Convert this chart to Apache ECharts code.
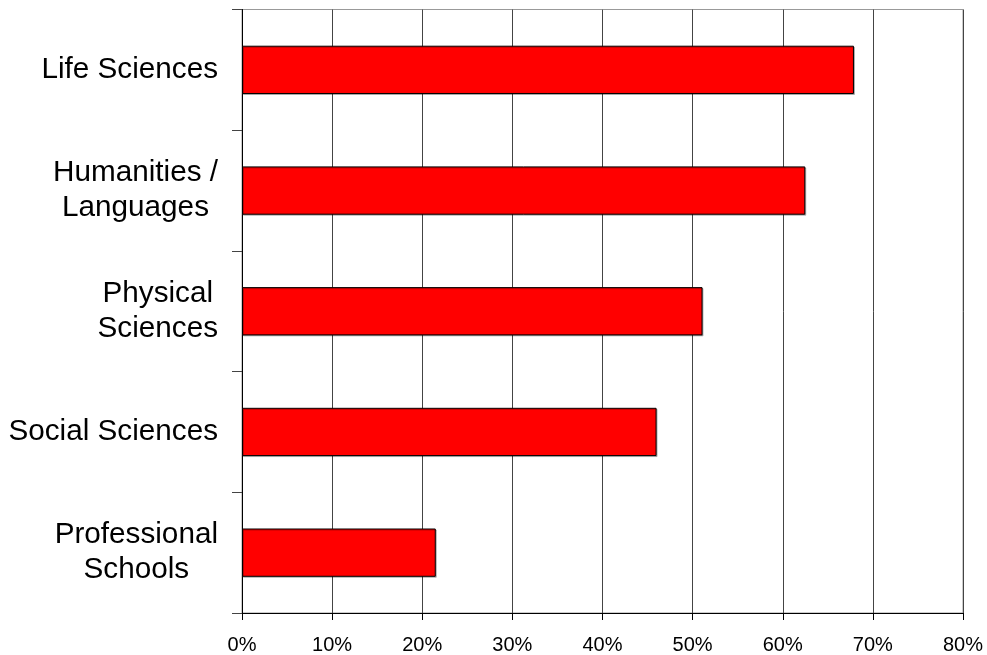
<!DOCTYPE html>
<html>
<head>
<meta charset="utf-8">
<script src="https://cdn.jsdelivr.net/npm/echarts@6/dist/echarts.min.js"></script>
<style>
html,body{margin:0;padding:0;background:#fff;}
#chart{width:987px;height:655px;}
</style>
</head>
<body>
<div id="chart"></div>
<script>
var categories = ['Life Sciences', 'Humanities /\nLanguages', 'Physical\nSciences', 'Social Sciences', 'Professional\nSchools'];
var values = [67.9, 62.5, 51.1, 46.0, 21.5];
var xTicks = [0, 10, 20, 30, 40, 50, 60, 70, 80];

var chart = echarts.init(document.getElementById('chart'), null, {renderer: 'canvas'});
var font = 'Arial, "Liberation Sans", sans-serif';
chart.setOption({
  animation: false,
  backgroundColor: '#ffffff',
  grid: {
    left: 242, right: 24, top: 9.5, bottom: 41.5,
    show: true, borderColor: '#999999', borderWidth: 1, backgroundColor: 'transparent'
  },
  xAxis: {
    type: 'value',
    min: xTicks[0], max: xTicks[xTicks.length - 1], interval: 10,
    axisLine: {show: true, lineStyle: {color: '#000', width: 1}},
    axisTick: {show: true, length: 7, lineStyle: {color: '#000'}},
    splitLine: {show: true, lineStyle: {color: '#444', width: 1}},
    axisLabel: {
      formatter: function (v) { return v + '%'; },
      fontFamily: font, fontSize: 20, color: '#000', margin: 22
    }
  },
  yAxis: {
    type: 'category',
    data: categories,
    inverse: true,
    axisLine: {show: true, lineStyle: {color: '#000', width: 1}},
    axisTick: {show: true, length: 10, alignWithLabel: false, lineStyle: {color: '#444'}},
    splitLine: {show: false},
    axisLabel: {
      margin: 24,
      align: 'right',
      formatter: function (v) {
        return v.split('\n').map(function (s) { return '{c|' + s + '}'; }).join('\n');
      },
      rich: {
        c: {align: 'center', fontFamily: font, fontSize: 29.7, color: '#000', lineHeight: 35}
      }
    }
  },
  series: [{
    type: 'bar',
    data: values,
    barWidth: '40%',
    itemStyle: {
      color: '#ff0000',
      borderColor: '#000',
      borderWidth: 1,
      shadowColor: 'rgba(0,0,0,0.25)',
      shadowBlur: 0,
      shadowOffsetX: 1,
      shadowOffsetY: 1
    },
    silent: true
  }]
});
</script>
</body>
</html>
